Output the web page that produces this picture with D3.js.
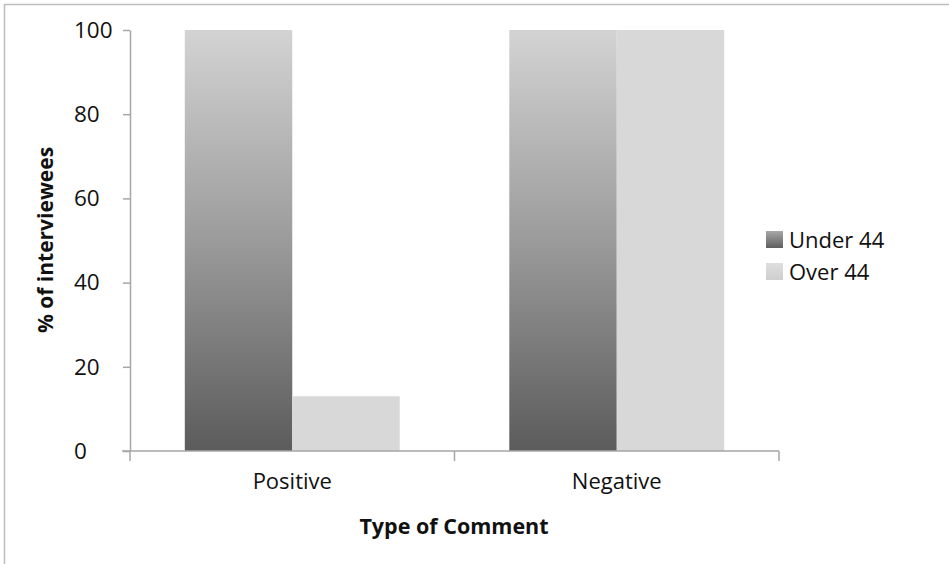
<!DOCTYPE html>
<html>
<head>
<meta charset="utf-8">
<script src="https://cdn.jsdelivr.net/npm/d3@7"></script>
<style>
  html, body { margin: 0; padding: 0; background: #fff; }
  svg { display: block; font-family: "Open Sans", "Noto Sans", sans-serif; }
</style>
</head>
<body>
<svg id="chart" width="949" height="564"></svg>
<script>
// Share of interviewees by type of comment and age group
const categories = ["Positive", "Negative"];
const seriesNames = ["Under 44", "Over 44"];
const under44 = [100, 100];
const over44 = [13, 100];
const yTicks = [0, 20, 40, 60, 80, 100];

const seriesValues = { "Under 44": under44, "Over 44": over44 };

const svg = d3.select("#chart");
const W = 949, H = 564;

// Outer frame of the chart area
svg.append("rect")
  .attr("x", 4.5).attr("y", 4.5)
  .attr("width", W + 10).attr("height", H + 10)
  .attr("fill", "#fff").attr("stroke", "#bdbdbd").attr("stroke-width", 1.5);

const plot = { left: 130, right: 779, top: 30, bottom: 451 };

const defs = svg.append("defs");
const gUnder = defs.append("linearGradient")
  .attr("id", "gradUnder").attr("x1", 0).attr("y1", 0).attr("x2", 0).attr("y2", 1);
gUnder.append("stop").attr("offset", "0%").attr("stop-color", "#d3d3d3");
gUnder.append("stop").attr("offset", "50%").attr("stop-color", "#9b9b9b");
gUnder.append("stop").attr("offset", "100%").attr("stop-color", "#5b5b5b");

const gUnderLegend = defs.append("linearGradient")
  .attr("id", "gradUnderLegend").attr("x1", 0).attr("y1", 0).attr("x2", 0).attr("y2", 1);
gUnderLegend.append("stop").attr("offset", "0%").attr("stop-color", "#a8a8a8");
gUnderLegend.append("stop").attr("offset", "100%").attr("stop-color", "#5e5e5e");

const gOverLegend = defs.append("linearGradient")
  .attr("id", "gradOverLegend").attr("x1", 0).attr("y1", 0).attr("x2", 0).attr("y2", 1);
gOverLegend.append("stop").attr("offset", "0%").attr("stop-color", "#dedede");
gOverLegend.append("stop").attr("offset", "100%").attr("stop-color", "#cfcfcf");

const fills = { "Under 44": "url(#gradUnder)", "Over 44": "#d8d8d8" };
const legendFills = { "Under 44": "url(#gradUnderLegend)", "Over 44": "url(#gradOverLegend)" };

const x0 = d3.scaleBand().domain(categories).range([plot.left, plot.right]).paddingInner(0).paddingOuter(0);
const x1 = d3.scaleBand().domain(seriesNames).range([0, x0.bandwidth()]).paddingInner(0).paddingOuter(0.51);
const y = d3.scaleLinear().domain([0, 100]).range([plot.bottom, plot.top]);

const axisColor = "#a6a6a6";
const textColor = "#111";

// Bars
const groups = svg.append("g").selectAll("g")
  .data(categories).join("g")
  .attr("transform", d => `translate(${x0(d)},0)`);

groups.selectAll("rect")
  .data((c, i) => seriesNames.map(s => ({ s, v: seriesValues[s][i] })))
  .join("rect")
  .attr("x", d => x1(d.s))
  .attr("width", x1.bandwidth())
  .attr("y", d => y(d.v))
  .attr("height", d => y(0) - y(d.v))
  .attr("fill", d => fills[d.s]);

// Y axis (labels sit left-aligned in a column beside the ticks)
const yAxis = svg.append("g")
  .attr("transform", `translate(${plot.left},0)`)
  .call(d3.axisLeft(y).tickValues(yTicks).tickSize(7).tickPadding(8).tickSizeOuter(0));
yAxis.select(".domain").attr("stroke", axisColor).attr("stroke-width", 1.5);
yAxis.selectAll(".tick line").attr("stroke", axisColor).attr("stroke-width", 1.5);
yAxis.selectAll(".tick text")
  .attr("x", -56)
  .attr("text-anchor", "start")
  .attr("fill", textColor).style("font-size", "22.5px")
  .style("font-family", "'Open Sans', sans-serif");

// X axis with ticks at category boundaries
const xAxisG = svg.append("g");
xAxisG.append("line")
  .attr("x1", plot.left - 8).attr("x2", plot.right)
  .attr("y1", plot.bottom).attr("y2", plot.bottom)
  .attr("stroke", axisColor).attr("stroke-width", 1.5);
const boundaries = categories.map(c => x0(c)).concat([x0(categories[categories.length - 1]) + x0.bandwidth()]);
xAxisG.selectAll("line.tk").data(boundaries).join("line")
  .attr("class", "tk")
  .attr("x1", d => d).attr("x2", d => d)
  .attr("y1", plot.bottom).attr("y2", plot.bottom + 10)
  .attr("stroke", axisColor).attr("stroke-width", 1.5);
xAxisG.selectAll("text").data(categories).join("text")
  .attr("x", d => x0(d) + x0.bandwidth() / 2)
  .attr("y", plot.bottom + 38)
  .attr("text-anchor", "middle")
  .attr("fill", textColor)
  .style("font-size", "22px")
  .text(d => d);

// Axis titles
svg.append("text")
  .attr("x", 454).attr("y", 534)
  .attr("text-anchor", "middle")
  .attr("fill", textColor)
  .style("font-size", "21.5px").style("font-weight", "bold")
  .text("Type of Comment");

svg.append("text")
  .attr("transform", "translate(53,240) rotate(-90)")
  .attr("text-anchor", "middle")
  .attr("fill", textColor)
  .style("font-size", "21px").style("font-weight", "bold")
  .text("% of interviewees");

// Legend
const legend = svg.append("g").attr("transform", "translate(766,231)");
const li = legend.selectAll("g").data(seriesNames).join("g")
  .attr("transform", (d, i) => `translate(0,${i * 32})`);
li.append("rect")
  .attr("width", 17).attr("height", 17)
  .attr("fill", d => legendFills[d]);
li.append("text")
  .attr("x", 23).attr("y", 17)
  .attr("fill", textColor)
  .style("font-size", "22px")
  .text(d => d);
</script>
</body>
</html>
